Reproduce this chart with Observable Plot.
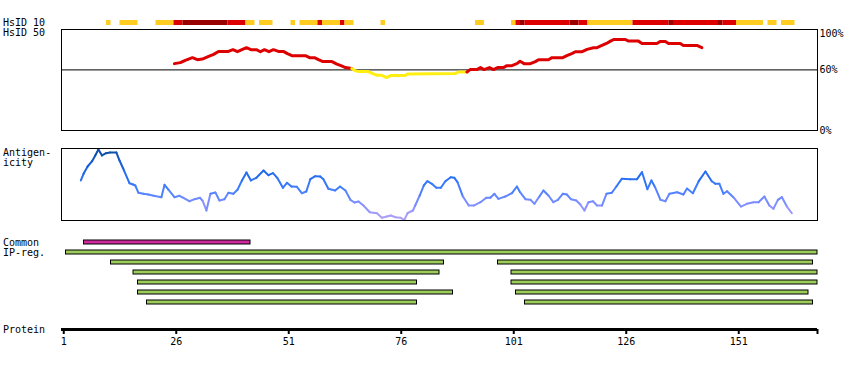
<!DOCTYPE html>
<html><head><meta charset="utf-8">
<script src="https://cdn.jsdelivr.net/npm/d3@7"></script>
<script src="https://cdn.jsdelivr.net/npm/@observablehq/plot@0.6"></script>
<style>
body{margin:0;background:#fff}
#chart{position:relative;width:850px;height:370px;font-family:"DejaVu Sans Mono",monospace;font-size:10px;color:#000}
#chart svg{position:absolute;left:0}
.lbl{position:absolute;left:3px;line-height:10px;white-space:pre}
</style></head><body><div id="chart"></div>
<script>
// ---------- data ----------
const proteinLength = 168;
const axisTicks = [1, 26, 51, 76, 101, 126, 151];

// HsID 10 track
const hs10Start = [11,14,22,26,28,38,42,45,52,54,58,59,63,64,72,93,101,102,103,104,114,116,118,128,136,137,147,148,151,158,161];
const hs10End   = [11,17,25,27,37,41,43,47,52,57,58,62,63,65,72,94,101,102,103,113,115,117,127,135,136,146,147,150,156,159,163];
const hs10Level = ["low","low","low","mid","high","mid","low","low","low","low","mid","low","mid","low","low","low","low","mid","high","mid","high","mid","low","mid","high","mid","high","mid","low","low","low"];

// HsID 50 (%)
const hs50Pos = [25.6,26.9,28.0,29.6,30.7,31.8,33.2,34.3,35.4,37.6,38.6,39.6,40.6,41.6,42.6,43.8,44.7,45.6,46.6,47.6,48.7,49.8,50.7,51.7,54.7,55.6,56.7,57.6,58.6,60.6,61.7,62.6,63.6,65.0,65.6,66.5,68.7,69.8,70.6,71.7,72.7,73.6,76.9,77.4,88.0,88.7,90.6,91.3,92.8,93.6,94.4,95.6,96.5,97.4,98.7,99.5,100.6,101.7,102.4,103.3,104.7,105.8,106.5,108.7,109.5,111.9,112.8,113.9,114.7,116.2,117.3,118.7,119.5,120.6,121.6,122.4,123.2,125.8,126.5,128.7,129.5,132.8,133.6,134.7,135.4,138.0,138.7,141.7,142.8];
const hs50Pct = [66.2,67.2,69.5,72.1,70.1,70.7,73.4,75.4,78.3,78.3,80.0,78.0,80.0,82.0,80.0,80.0,78.0,80.0,78.0,80.0,78.3,78.3,76.1,74.1,74.1,72.1,72.1,70.1,68.2,68.2,65.8,64.2,62.3,61.3,59.6,58.3,58.3,56.0,54.7,54.7,52.4,54.4,54.4,56.0,56.4,57.9,57.9,60.3,60.3,62.3,60.3,62.3,60.3,62.3,62.3,64.2,64.2,66.2,68.5,66.2,66.2,68.2,70.1,70.1,72.1,72.1,74.1,76.1,78.0,78.0,80.3,82.0,82.0,84.2,86.2,88.2,90.1,90.1,88.5,88.5,86.2,86.2,88.2,88.2,86.2,86.2,84.2,84.2,82.0];
const hs50Threshold = 60;
const hs50Ticks = [0, 60, 100];

// Antigenicity (relative score, 0-100)
const agPos = [4.8,5.4,6.3,7.3,8.0,8.7,9.5,10.4,11.3,12.7,13.4,14.4,15.6,16.4,16.9,17.6,18.7,19.8,21.0,22.7,23.4,24.3,25.6,26.7,27.6,28.9,30.1,31.3,31.9,32.7,33.6,34.7,35.6,36.7,37.6,38.7,39.6,40.6,41.6,42.6,43.8,45.4,46.5,47.5,48.5,49.7,50.6,51.6,52.8,53.9,54.9,55.8,56.9,58.0,58.7,59.8,61.3,62.4,63.6,64.7,65.6,66.5,67.6,69.0,70.6,71.7,72.8,73.7,74.7,75.8,76.7,77.4,78.6,79.1,80.1,81.0,81.8,82.8,83.8,84.8,85.8,87.0,87.8,88.5,89.7,91.0,92.1,93.6,94.9,95.8,96.7,97.6,99.1,100.6,101.7,102.4,103.6,104.7,105.6,106.7,107.6,108.7,109.8,110.8,111.9,112.8,113.7,114.9,115.8,116.7,117.6,118.6,119.5,120.6,121.6,122.8,123.8,125.0,126.9,128.4,129.5,130.7,131.6,132.4,133.6,134.7,135.6,137.3,138.7,139.5,140.8,142.1,143.6,145.0,145.8,146.7,147.6,148.4,149.8,151.5,152.8,154.3,155.4,156.7,157.8,158.7,159.7,160.6,161.7,162.8];
const agVal = [55.6,64.9,75.0,82.4,90.3,98.6,90.3,93.5,94.4,94.4,83.3,69.4,51.8,50.0,48.6,38.5,37.1,36.1,34.3,32.4,49.6,42.6,32.4,34.3,31.5,26.8,29.6,31.5,26.8,13.9,37.1,38.9,27.8,29.6,38.5,37.1,42.6,55.6,66.7,55.6,59.3,69.4,62.9,65.7,58.8,45.4,52.4,47.2,46.8,37.9,40.3,57.4,61.5,61.1,57.4,44.0,41.7,47.2,41.7,28.7,25.0,26.4,20.8,11.5,10.1,3.8,5.6,6.9,4.6,3.8,1.0,10.1,13.9,20.8,34.7,48.6,54.6,51.0,45.4,45.4,54.6,60.1,59.3,53.2,33.3,20.8,20.8,25.4,31.5,31.5,37.1,30.1,33.3,37.9,47.2,39.3,29.6,28.7,23.2,33.3,41.7,34.7,25.4,28.7,37.1,36.1,29.6,27.8,22.2,13.9,25.4,26.8,20.8,20.8,37.1,38.5,47.2,57.9,57.4,57.4,67.1,43.5,55.6,46.3,28.7,26.8,37.1,39.3,36.1,44.4,37.9,54.6,68.1,54.6,51.0,51.0,37.1,40.7,32.4,19.4,23.2,25.4,25.4,33.3,20.8,16.3,28.7,32.4,19.4,10.1];

// Common IP-reg. (row, start, end, kind)
const ipRow   = [0, 1, 2, 2, 3, 3, 4, 4, 5, 5, 6, 6];
const ipStart = [6, 2, 12, 98, 17, 101, 18, 101, 18, 102, 20, 104];
const ipEnd   = [42, 168, 85, 167, 84, 168, 79, 168, 87, 166, 79, 167];
const ipKind  = ["common","ip","ip","ip","ip","ip","ip","ip","ip","ip","ip","ip"];

// ---------- build ----------
const chart = document.getElementById("chart");
const W = 850, ML = 61, MR = 33;
const xScale = {domain: [0.5, proteinLength + 0.5], axis: null};
const baseStyle = {background: "transparent", fontFamily: "DejaVu Sans Mono, monospace", fontSize: "10px", color: "black", overflow: "visible"};
function place(svg, top) { svg.style.top = top + "px"; chart.appendChild(svg); }

// HsID 10
const hs10 = hs10Start.map((s, i) => ({start: s, end: hs10End[i], level: hs10Level[i]}));
place(Plot.plot({
  width: W, height: 27, marginLeft: ML, marginRight: MR, marginTop: 20, marginBottom: 2,
  style: baseStyle, x: xScale,
  color: {domain: ["low", "mid", "high"], range: ["#ffcc22", "#dd0000", "#990000"]},
  marks: [Plot.barX(hs10, {x1: d => d.start - 0.5, x2: d => d.end + 0.5, fill: "level"})]
}), 0);

// HsID 50 — split into runs above / below threshold
const hs50pts = [];
let run = 0, prev = null;
hs50Pos.forEach((p, i) => {
  const cat = hs50Pct[i] >= hs50Threshold ? "above" : "below";
  if (prev && prev.cat !== cat) { run++; hs50pts.push({pos: prev.pos, pct: prev.pct, cat, run}); }
  const pt = {pos: p, pct: hs50Pct[i], cat, run};
  hs50pts.push(pt); prev = pt;
});
place(Plot.plot({
  width: W, height: 140, marginLeft: ML, marginRight: MR, marginTop: 29, marginBottom: 10,
  style: baseStyle, x: xScale,
  y: {domain: [0, 100], axis: null},
  color: {domain: ["above", "below"], range: ["#dd0000", "#ffee11"]},
  marks: [
    Plot.ruleY([hs50Threshold], {stroke: "black"}),
    Plot.line(hs50pts, {x: "pos", y: "pct", z: "run", stroke: "cat", strokeWidth: 3, curve: "linear"}),
    Plot.frame({stroke: "black"}),
    Plot.axisY(hs50Ticks.filter(d => d < 100), {anchor: "right", tickSize: 0, tickPadding: 2, tickFormat: d => d + "%", label: null}),
    Plot.axisY(hs50Ticks.filter(d => d === 100), {anchor: "right", tickSize: 0, tickPadding: 2, lineAnchor: "top", tickFormat: d => d + "%", label: null})
  ]
}), 0);

// Antigenicity — segments coloured by value
const agSeg = d3.range(agPos.length - 1).map(i => ({
  x1: agPos[i], y1: agVal[i], x2: agPos[i + 1], y2: agVal[i + 1], v: (agVal[i] + agVal[i + 1]) / 2
}));
place(Plot.plot({
  width: W, height: 90, marginLeft: ML, marginRight: MR, marginTop: 8, marginBottom: 10,
  style: baseStyle, x: xScale,
  y: {domain: [0, 100], axis: null},
  color: {type: "linear", domain: [0, 20, 45, 70, 100], range: ["#b4a4f2", "#8c92ff", "#3f7dff", "#1a66e6", "#0a4a9c"]},
  marks: [
    Plot.link(agSeg, {x1: "x1", y1: "y1", x2: "x2", y2: "y2", stroke: "v", strokeWidth: 2, strokeLinecap: "round"}),
    Plot.frame({stroke: "black"})
  ]
}), 140);

// Common IP-reg.
const ip = ipRow.map((r, i) => ({row: r, start: ipStart[i], end: ipEnd[i], kind: ipKind[i]}));
place(Plot.plot({
  width: W, height: 75, marginLeft: ML, marginRight: MR, marginTop: 2, marginBottom: 3,
  style: baseStyle, x: xScale,
  y: {domain: d3.range(7), paddingInner: 0.6, paddingOuter: 0.3, axis: null},
  color: {domain: ["common", "ip"], range: ["#d0289e", "#9ccc5a"]},
  marks: [
    Plot.barX(ip, {x1: d => d.start - 0.5, x2: d => d.end + 0.5, y: "row", fill: "kind", stroke: "black", strokeWidth: 1})
  ]
}), 235);

// Protein axis
place(Plot.plot({
  width: W, height: 45, marginLeft: ML, marginRight: MR, marginTop: 10, marginBottom: 31,
  style: baseStyle, x: {domain: [0.5, proteinLength + 0.5]},
  y: {domain: [0, 1], axis: null},
  marks: [
    Plot.ruleY([0], {x1: 0.5, x2: proteinLength + 0.5, strokeWidth: 3, stroke: "black"}),
    Plot.axisX([...axisTicks, proteinLength + 0.5], {anchor: "bottom", tickSize: 5, tickPadding: 3, strokeWidth: 2,
      tickFormat: d => Number.isInteger(d) ? String(d) : "", label: null})
  ]
}), 315);

// Left labels
[["HsID 10", 18], ["HsID 50", 28], ["Antigen-\nicity", 148], ["Common\nIP-reg.", 238], ["Protein", 325]].forEach(([t, top]) => {
  const d = document.createElement("div");
  d.className = "lbl"; d.textContent = t; d.style.top = top + "px";
  chart.appendChild(d);
});
</script>
</body></html>
